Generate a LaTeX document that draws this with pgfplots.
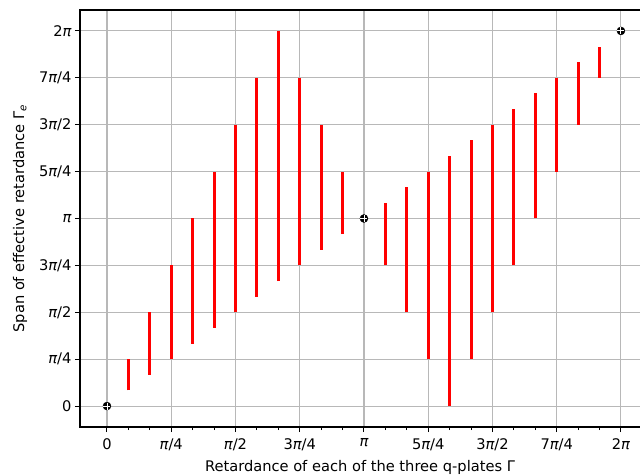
\documentclass[border=0pt]{standalone}
\usepackage{pgfplots}
\pgfplotsset{compat=1.18}
\usepackage{pgfplotstable}
\usepackage{fontspec}
\setmainfont{DejaVu Sans}

\newcommand\p{{\itshape π}}

% x and y in units of pi/12
\pgfplotstableread{
x lo hi
1 1 3
2 2 6
3 3 9
4 4 12
5 5 15
6 6 18
7 7 21
8 8 24
9 9 21
10 10 18
11 11 15
13 9 13
14 6 14
15 3 15
16 0 16
17 3 17
18 6 18
19 9 19
20 12 20
21 15 21
22 18 22
23 21 23
}\spans

\begin{document}
\begin{tikzpicture}
\begin{axis}[
  name=ax, at={(0,0)}, anchor=south west,
  width=560bp, height=417bp, scale only axis,
  xmin=-1.26, xmax=24.89, ymin=-1.34, ymax=25.34,
  xtick={0,3,...,24}, ytick={0,3,...,24},
  minor xtick={0,...,24},
  xticklabels={0,\p/4,\p/2,3\p/4,\p,5\p/4,3\p/2,7\p/4,2\p},
  yticklabels={0,\p/4,\p/2,3\p/4,\p,5\p/4,3\p/2,7\p/4,2\p},
  grid=major, major grid style={color=black!28, line width=1.1bp},
  tick pos=left, tick align=outside,
  major tick length=5bp, minor tick length=3bp,
  every tick/.style={black, line width=1bp},
  axis line style={draw=none},
  font=\fontsize{14.7}{17}\selectfont,
  xticklabel style={yshift=-3bp},
  xlabel={Retardance of each of the three q-plates Γ},
  ylabel={Span of effective retardance Γ\textsubscript{\itshape e}},
  xlabel style={yshift=-3bp},
  ylabel style={yshift=5bp},
]
\addplot[draw=none, mark=none,
  error bars/.cd, y dir=plus, y explicit, error mark=none,
  error bar style={color=red, line width=3bp}]
  table[x=x, y=lo, y error plus expr=\thisrow{hi}-\thisrow{lo}] {\spans};
\addplot[only marks, mark=*, mark size=4bp, black] coordinates {(0,0) (12,12) (24,24)};
\addplot[only marks, mark=+, mark size=3.5bp, white, line width=0.9bp] coordinates {(0,0) (12,12) (24,24)};
\end{axis}
\draw[line width=2.5bp] (ax.north east) -- (ax.north west) -- (ax.south west) -- (ax.south east);
\pgfresetboundingbox
\path ([shift={(-80bp,-48bp)}]ax.south west) rectangle ++(640bp,475bp);
\end{tikzpicture}
\end{document}
